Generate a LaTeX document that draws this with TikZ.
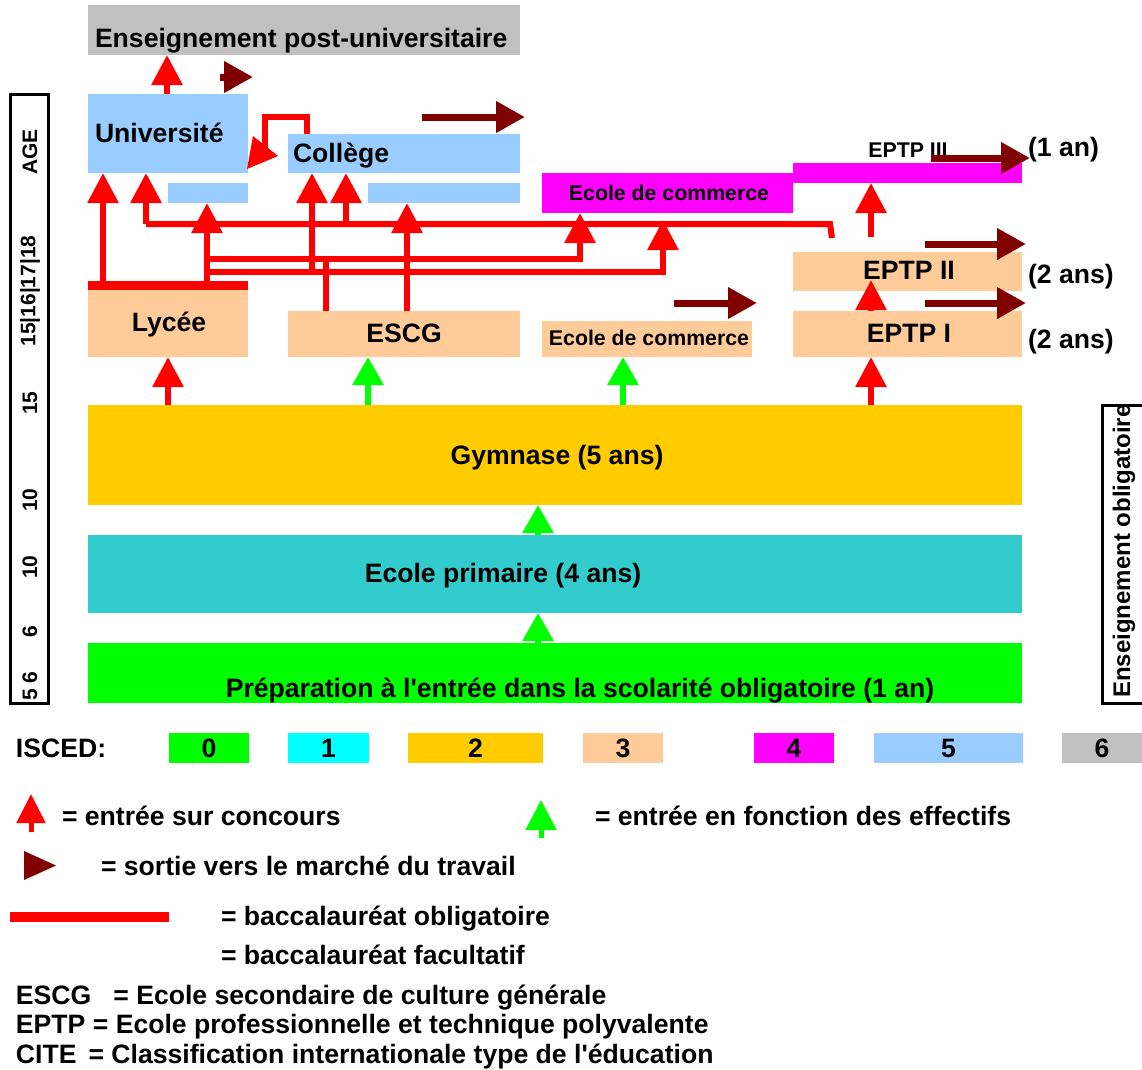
\documentclass[tikz,border=0pt]{standalone}
\usepackage{fontspec}
\setmainfont{Liberation Sans}[Ligatures=TeXOff]
\usetikzlibrary{arrows.meta}
\definecolor{cgray}{HTML}{C0C0C0}
\definecolor{cblue}{HTML}{99CCFF}
\definecolor{cmag}{HTML}{FF00FF}
\definecolor{cpeach}{HTML}{FFCC99}
\definecolor{cgold}{HTML}{FFCC00}
\definecolor{cteal}{HTML}{33CCCC}
\definecolor{cgreen}{HTML}{00FF00}
\definecolor{ccyan}{HTML}{00FFFF}
\definecolor{cred}{HTML}{FF0000}
\definecolor{cdkred}{HTML}{800000}
\begin{document}
\begin{tikzpicture}[x=1pt,y=-1pt,
  box/.style={draw=none, inner sep=0pt, outer sep=0pt},
  txt/.style={font=\bfseries\fontsize{26.6}{30}\selectfont, inner sep=0pt, outer sep=0pt},
  stxt/.style={font=\bfseries\fontsize{21.3}{25}\selectfont, inner sep=0pt, outer sep=0pt},
  agetxt/.style={font=\bfseries\fontsize{21}{25}\selectfont, inner sep=0pt, rotate=90},
  redline/.style={draw=cred, line width=6pt},
  redarrow/.style={draw=cred, line width=6pt, -{Triangle[width=30pt,length=30pt]}},
  greenarrow/.style={draw=cgreen, line width=6pt, -{Triangle[width=30pt,length=28pt]}},
  exitarrow/.style={draw=cdkred, line width=7pt, -{Triangle[width=30pt,length=29pt]}}
]
\useasboundingbox (0,0) rectangle (1142,1069);

% ---- boxes ----
\node[box, fill=cgray, minimum width=432pt, minimum height=50pt] (post) at (304,30) {};
\node[box, fill=cblue, minimum width=160pt, minimum height=79pt] (univ) at (168,133.5) {};
\node[box, fill=cblue, minimum width=80pt, minimum height=20pt] (univb) at (208,193) {};
\node[box, fill=cblue, minimum width=232pt, minimum height=39pt] (coll) at (404,153.5) {};
\node[box, fill=cblue, minimum width=152pt, minimum height=20pt] (collb) at (444,193) {};
\node[box, fill=cmag, minimum width=251pt, minimum height=40pt] (ecm) at (667.5,193) {};
\node[box, fill=cmag, minimum width=229pt, minimum height=20pt] (eptpc) at (907.5,173) {};
\node[box, fill=cpeach, minimum width=229pt, minimum height=39pt] (eptpb) at (907.5,271.5) {};
\node[box, fill=cpeach, minimum width=160pt, minimum height=76pt] (lycee) at (168,319) {};
\node[box, fill=cred, minimum width=160pt, minimum height=9pt] (lyceebar) at (168,285.5) {};
\node[box, fill=cpeach, minimum width=232pt, minimum height=46pt] (escg) at (404,334) {};
\node[box, fill=cpeach, minimum width=210pt, minimum height=36pt] (ecp) at (647,339) {};
\node[box, fill=cpeach, minimum width=229pt, minimum height=46pt] (eptpa) at (907.5,334) {};
\node[box, fill=cgold, minimum width=934pt, minimum height=100pt] (gym) at (555,455) {};
\node[box, fill=cteal, minimum width=934pt, minimum height=78pt] (prim) at (555,574) {};
\node[box, fill=cgreen, minimum width=934pt, minimum height=60pt] (prep) at (555,673) {};

% ---- texts ----
\node[txt, anchor=base west] (tpost) at (95,47) {Enseignement post-universitaire};
\node[txt, anchor=base west] (tuniv) at (95,142) {Université};
\node[txt, anchor=base west] (tcoll) at (293,162) {Collège};
\node[stxt, anchor=base] (tecm) at (669,200) {Ecole de commerce};
\node[stxt, anchor=base] (teptpc) at (908,157) {EPTP III};
\node[txt, anchor=base west] (tunan) at (1028,156) {(1 an)};
\node[txt, anchor=base] (teptpb) at (909,279) {EPTP II};
\node[txt, anchor=base west] (tdeuxa) at (1028,283) {(2 ans)};
\node[txt, anchor=base] (tlycee) at (169,331) {Lycée};
\node[txt, anchor=base] (tescg) at (404,342) {ESCG};
\node[stxt, anchor=base] (tecp) at (649,345) {Ecole de commerce};
\node[txt, anchor=base] (teptpa) at (909,342) {EPTP I};
\node[txt, anchor=base west] (tdeuxb) at (1028,348) {(2 ans)};
\node[txt, anchor=base] (tgym) at (557,464) {Gymnase (5 ans)};
\node[txt, anchor=base] (tprim) at (503,582) {Ecole primaire (4 ans)};
\node[txt, anchor=base] (tprep) at (580,697) {Préparation à l'entrée dans la scolarité obligatoire (1 an)};

% ---- age box ----
\node[box, draw=black, line width=3pt, minimum width=38pt, minimum height=609pt] (agebox) at (29,398.5) {};
\node[agetxt] (a1) at (30,152) {AGE};
\node[agetxt] (a2) at (30,291) {15|16|17|18};
\node[agetxt] (a3) at (30,403) {15};
\node[agetxt] (a4) at (30,500) {10};
\node[agetxt] (a5) at (30,567) {10};
\node[agetxt] (a6) at (30,632) {6};
\node[agetxt] (a7) at (30,686) {5 6};

% ---- compulsory box ----
\coordinate (oblA) at (1142,405);
\coordinate (oblB) at (1142,703);
\draw[line width=3pt] (oblA) -- (1102,405) -- (1102,703) -- (oblB);
\node[font=\bfseries\fontsize{24}{28}\selectfont, inner sep=0pt, rotate=90] (tobl) at (1124,551) {Enseignement obligatoire};

% ---- red connectors ----
\draw[redarrow] (167,0 |- univ.north) -- (167,0 |- post.south);
\draw[redarrow] (103,0 |- lyceebar.north) -- (103,0 |- univ.south);
\draw[redline] (832,238) -- (830,224) -- (146,224);
\draw[redarrow] (146,224) -- (146,0 |- univ.south);
\draw[redarrow] (207,0 |- lyceebar.north) -- (207,0 |- univb.south);
\draw[redarrow] (207,259) -- (580,259) -- (580,0 |- ecm.south);
\draw[redarrow] (207,272) -- (663,272) -- (663,220);
\draw[redarrow] (312,272) -- (312,0 |- coll.south);
\draw[redarrow] (346,224) -- (346,0 |- coll.south);
\draw[redline] (326,0 |- escg.north) -- (326,259);
\draw[redarrow] (407,0 |- escg.north) -- (407,0 |- collb.south);
\draw[redline] (307,0 |- coll.north) -- (307,117) -- (265,117) -- (265,150);
\fill[cred] (247,169) -- (278,156) -- (253,136) -- cycle;
\draw[redarrow] (871,237) -- (871,0 |- eptpc.south);
\draw[redarrow] (871,0 |- eptpa.north) -- (871,280);
\draw[redarrow] (871,0 |- gym.north) -- (871,0 |- eptpa.south);
\draw[redarrow] (168,0 |- gym.north) -- (168,0 |- lycee.south);

% ---- green connectors ----
\draw[greenarrow] (368,0 |- gym.north) -- (368,0 |- escg.south);
\draw[greenarrow] (623,0 |- gym.north) -- (623,0 |- ecp.south);
\draw[greenarrow] (538,0 |- prim.north) -- (538,0 |- gym.south);
\draw[greenarrow] (538,0 |- prep.north) -- (538,0 |- prim.south);

% ---- exits ----
\coordinate (x1a) at (220,77);  \coordinate (x1b) at (253,77);
\coordinate (x2a) at (422,117); \coordinate (x2b) at (525,117);
\coordinate (x3a) at (931,158); \coordinate (x3b) at (1030,158);
\coordinate (x4a) at (925,244); \coordinate (x4b) at (1026,244);
\coordinate (x5a) at (925,303); \coordinate (x5b) at (1026,303);
\coordinate (x6a) at (674,303); \coordinate (x6b) at (757,303);
\draw[exitarrow] (x1a) -- (x1b);
\draw[exitarrow] (x2a) -- (x2b);
\draw[exitarrow] (x3a) -- (x3b);
\draw[exitarrow] (x4a) -- (x4b);
\draw[exitarrow] (x5a) -- (x5b);
\draw[exitarrow] (x6a) -- (x6b);

% ---- ISCED legend ----
\node[txt, anchor=base west] (tisced) at (16,757) {ISCED:};
\node[box, fill=cgreen, minimum width=80pt, minimum height=30pt] (i0) at (209,748) {};
\node[box, fill=ccyan, minimum width=81pt, minimum height=30pt] (i1) at (328.5,748) {};
\node[box, fill=cgold, minimum width=135pt, minimum height=30pt] (i2) at (475.5,748) {};
\node[box, fill=cpeach, minimum width=80pt, minimum height=30pt] (i3) at (623,748) {};
\node[box, fill=cmag, minimum width=80pt, minimum height=30pt] (i4) at (794,748) {};
\node[box, fill=cblue, minimum width=149pt, minimum height=30pt] (i5) at (948.5,748) {};
\node[box, fill=cgray, minimum width=80pt, minimum height=30pt] (i6) at (1102,748) {};
\foreach \n/\lab in {i0/0,i1/1,i2/2,i3/3,i4/4,i5/5,i6/6}
  \node[txt, anchor=base] at (\n.center |- 0,757) {\lab};

% ---- symbol legend ----
\coordinate (lra) at (31,832); \coordinate (lrb) at (31,794);
\draw[draw=cred, line width=5pt, -{Triangle[width=28pt,length=29pt]}] (lra) -- (lrb);
\node[txt, anchor=base west] (lr) at (62,825) {= entrée sur concours};
\coordinate (lga) at (541,838); \coordinate (lgb) at (541,800);
\draw[draw=cgreen, line width=5pt, -{Triangle[width=30pt,length=30pt]}] (lga) -- (lgb);
\node[txt, anchor=base west] (lg) at (595,825) {= entrée en fonction des effectifs};
\fill[cdkred] (24,851) -- (56,865.5) -- (24,880) -- cycle;
\node[txt, anchor=base west] (ld) at (101,875) {= sortie vers le marché du travail};
\coordinate (lba) at (10,917); \coordinate (lbb) at (169,917);
\draw[draw=cred, line width=10pt] (lba) -- (lbb);
\node[txt, anchor=base west] (lb) at (221,925) {= baccalauréat obligatoire};
\node[txt, anchor=base west] (lf) at (221,964) {= baccalauréat facultatif};
\node[txt, anchor=base west] (le1) at (16,1004) {ESCG\hspace{22pt}= Ecole secondaire de culture générale};
\node[txt, anchor=base west] (le2) at (16,1033) {EPTP = Ecole professionnelle et technique polyvalente};
\node[txt, anchor=base west] (le3) at (16,1063) {CITE\hspace{12pt}= Classification internationale type de l'éducation};
\end{tikzpicture}
\end{document}
